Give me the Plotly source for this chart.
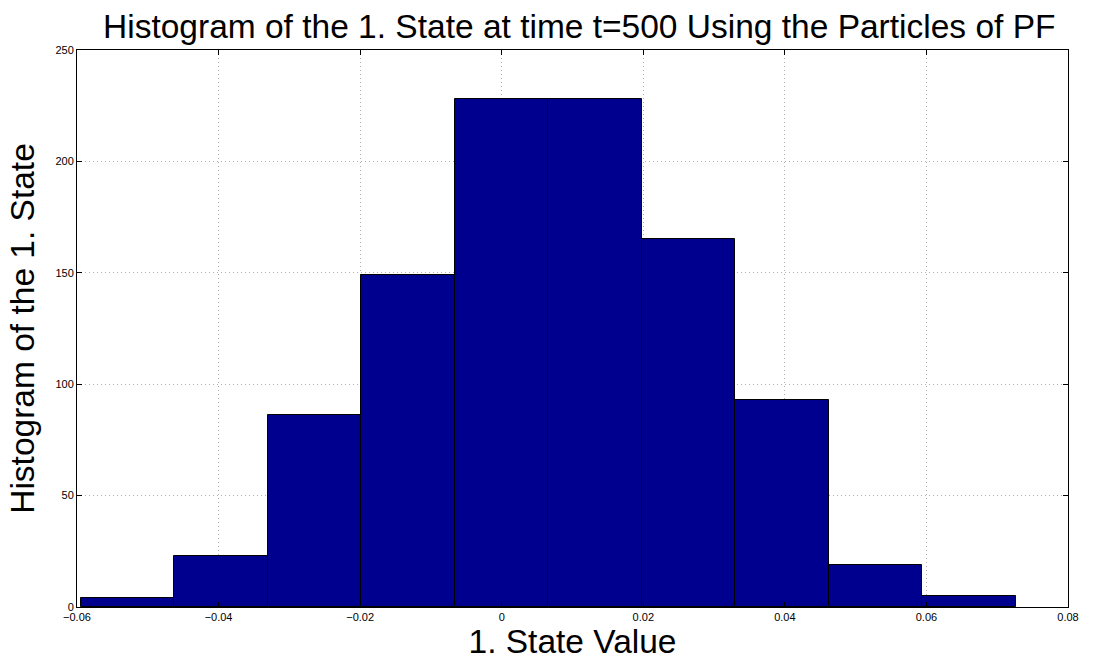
import plotly.graph_objects as go

# Histogram data
bin_edges = [-0.0595, -0.04629, -0.03308, -0.01987, -0.00666, 0.00655,
             0.01976, 0.03297, 0.04618, 0.05939, 0.0726]
counts = [4, 23, 86, 149, 228, 228, 165, 93, 19, 5]

x_ticks = [-0.06, -0.04, -0.02, 0, 0.02, 0.04, 0.06, 0.08]
x_ticktext = ["\u22120.06", "\u22120.04", "\u22120.02", "0", "0.02", "0.04", "0.06", "0.08"]
y_ticks = [0, 50, 100, 150, 200, 250]

title = "Histogram of the 1. State at time t=500 Using the Particles of PF"
x_title = "1. State Value"
y_title = "Histogram of the 1. State"

centers = [(a + b) / 2 for a, b in zip(bin_edges[:-1], bin_edges[1:])]
widths = [b - a for a, b in zip(bin_edges[:-1], bin_edges[1:])]

FONT = "Liberation Sans, Arial, Helvetica, sans-serif"
BIG = 33.5

fig = go.Figure()
fig.add_trace(go.Bar(
    x=centers, y=counts, width=widths,
    marker=dict(color="#00008F", line=dict(color="black", width=1)),
    showlegend=False,
))

axis_common = dict(
    showline=True, linecolor="black", linewidth=1, mirror="ticks",
    ticks="inside", ticklen=5, tickcolor="black", tickwidth=1,
    showgrid=True, gridcolor="#b0b0b0", griddash="1px,3px", gridwidth=1,
    zeroline=False,
    tickfont=dict(family=FONT, size=11, color="black"),
)

fig.update_layout(
    width=1095, height=660,
    margin=dict(l=77, r=27, t=50, b=53),
    paper_bgcolor="white", plot_bgcolor="white",
    title=dict(text=title, x=0.529, xanchor="center", y=1 - 26 / 660, yanchor="middle",
               font=dict(family=FONT, size=BIG, color="black")),
    bargap=0,
    font=dict(family=FONT, color="black"),
)
fig.update_xaxes(range=[-0.06, 0.08], tickvals=x_ticks, ticktext=x_ticktext,
                 title=dict(text=x_title, font=dict(family=FONT, size=BIG, color="black"), standoff=0),
                 **axis_common)
fig.update_yaxes(range=[0, 250], tickvals=y_ticks,
                 title=dict(text=y_title, font=dict(family=FONT, size=BIG, color="black"), standoff=10),
                 **axis_common)

fig.write_html("out.html")
